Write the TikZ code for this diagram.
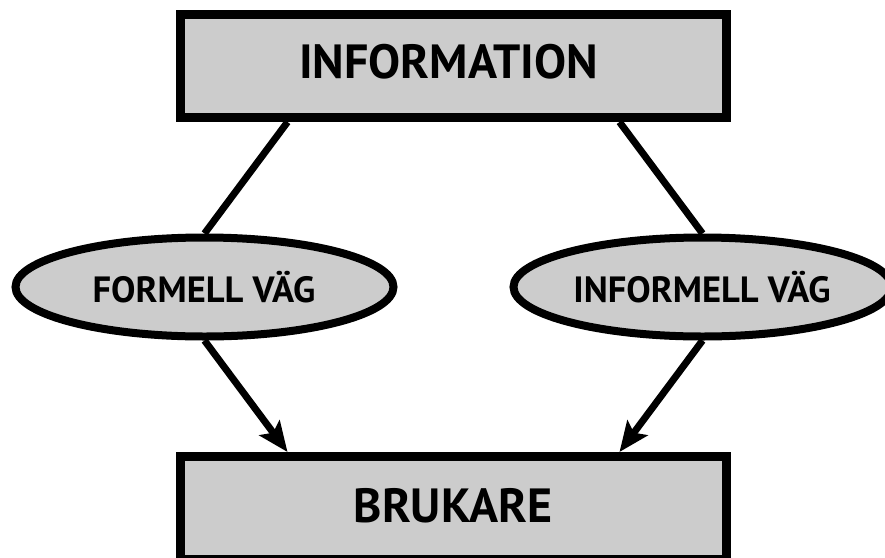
\documentclass[tikz,border=0pt]{standalone}
\usepackage{fontspec}
\setmainfont{PT Sans}
\usetikzlibrary{shapes.geometric,arrows.meta}
\definecolor{boxgray}{HTML}{CCCCCC}
\tikzset{
  x=1pt, y=-1pt,
  boxnode/.style={draw=black, fill=boxgray, line width=9pt, rectangle, inner sep=0pt},
  ovalnode/.style={draw=black, fill=boxgray, line width=8pt, ellipse, inner sep=0pt, minimum width=378pt, minimum height=99pt},
  bigtext/.style={font=\bfseries\fontsize{48}{51}\selectfont, inner sep=0pt, text depth=0pt},
  smalltext/.style={font=\bfseries\fontsize{36.5}{40}\selectfont, inner sep=0pt, text depth=0pt},
  link/.style={line width=7pt},
  arrowlink/.style={line width=7pt, -{Stealth[length=30pt, width=25pt, inset=6pt]}}
}
\begin{document}
\begin{tikzpicture}
\clip (0,0) rectangle (885,557);
\fill[white] (0,0) rectangle (885,557);
% boxes
\node[boxnode, minimum width=546pt, minimum height=103pt] (info) at (453.5,66) {};
\node[bigtext] (infotext) at (448.5,61.5) {INFORMATION};
\node[boxnode, minimum width=546pt, minimum height=103pt] (user) at (453.5,508) {};
\node[bigtext] (usertext) at (453,505) {BRUKARE};
% ellipses
\node[ovalnode] (formell) at (204.5,287) {};
\node[smalltext] (formelltext) at (204,286.5) {FORMELL VÄG};
\node[ovalnode] (informell) at (702.5,287) {};
\node[smalltext] (informelltext) at (702,286.5) {INFORMELL VÄG};
% connector end points on the boxes
\coordinate (tl) at ([xshift=-166pt]info.south);
\coordinate (tr) at ([xshift=166pt]info.south);
\coordinate (bl) at ([xshift=-166pt]user.north);
\coordinate (br) at ([xshift=166pt]user.north);
% connectors
\draw[link] (tl) -- (formell.north);
\draw[link] (tr) -- (informell.north);
\draw[arrowlink] (formell.south) -- (bl);
\draw[arrowlink] (informell.south) -- (br);
\end{tikzpicture}
\end{document}
